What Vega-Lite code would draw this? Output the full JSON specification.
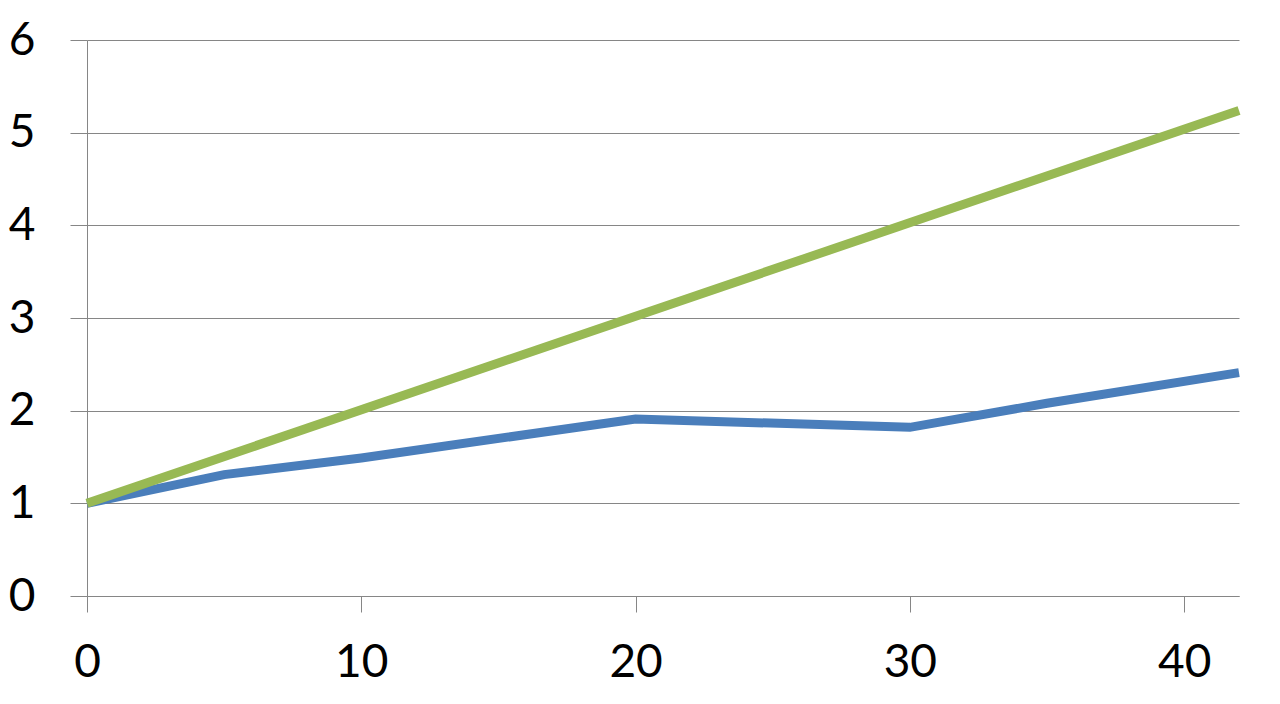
{
  "$schema": "https://vega.github.io/schema/vega-lite/v6.json",
  "width": 1152,
  "height": 556,
  "autosize": {"type": "none"},
  "padding": {"left": 87, "top": 40, "right": 41, "bottom": 108},
  "background": "white",
  "config": {"view": {"stroke": null}},
  "data": {
    "values": [
      {"x": 0, "y": 1, "s": "A"},
      {"x": 5, "y": 1.31, "s": "A"},
      {"x": 10, "y": 1.49, "s": "A"},
      {"x": 20, "y": 1.91, "s": "A"},
      {"x": 30, "y": 1.82, "s": "A"},
      {"x": 35, "y": 2.08, "s": "A"},
      {"x": 42, "y": 2.41, "s": "A"},
      {"x": 0, "y": 1, "s": "B"},
      {"x": 42, "y": 5.24, "s": "B"}
    ]
  },
  "mark": {"type": "line", "strokeWidth": 9, "strokeCap": "butt", "strokeJoin": "miter"},
  "encoding": {
    "x": {
      "field": "x", "type": "quantitative",
      "scale": {"domain": [0, 42], "nice": false, "zero": false},
      "axis": {
        "values": [0, 10, 20, 30, 40],
        "grid": false, "domain": true, "domainColor": "#868686", "domainWidth": 1,
        "tickColor": "#868686", "tickSize": 16, "tickWidth": 1,
        "labelFont": "Lato", "labelFontSize": 46, "labelColor": "#000000",
        "labelPadding": 28, "title": null, "labelFlush": false
      }
    },
    "y": {
      "field": "y", "type": "quantitative",
      "scale": {"domain": [0, 6], "nice": false},
      "axis": {
        "values": [0, 1, 2, 3, 4, 5, 6],
        "grid": true, "gridColor": "#868686", "gridWidth": 1,
        "domain": true, "domainColor": "#868686", "domainWidth": 1,
        "tickColor": "#868686", "tickSize": 17, "tickWidth": 1,
        "labelFont": "Lato", "labelFontSize": 46, "labelColor": "#000000",
        "labelPadding": 35, "title": null, "labelFlush": false
      }
    },
    "color": {
      "field": "s", "type": "nominal",
      "scale": {"domain": ["A", "B"], "range": ["#4a7ebb", "#98b954"]},
      "legend": null
    },
    "order": {"field": "x"}
  }
}
